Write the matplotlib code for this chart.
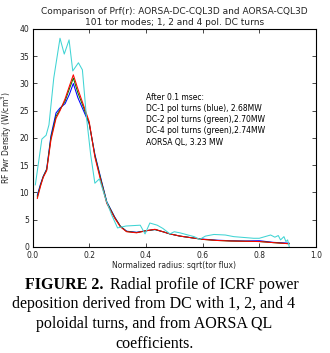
import matplotlib
matplotlib.use("Agg")
import matplotlib.pyplot as plt

# DC runs (1, 2, 4 poloidal turns)
r_dc = [0.017, 0.028, 0.038, 0.050, 0.065, 0.083, 0.097, 0.115, 0.130, 0.144,
        0.160, 0.180, 0.200, 0.220, 0.240, 0.262, 0.290, 0.310, 0.332, 0.367,
        0.403, 0.432, 0.460, 0.485, 0.520, 0.560, 0.600, 0.650, 0.700, 0.750,
        0.800, 0.850, 0.905]
dc1 = [9.5, 11.5, 13.0, 14.3, 20.4, 24.6, 25.5, 26.3, 28.0, 30.0,
       27.4, 25.0, 22.6, 17.0, 12.8, 8.3, 5.5, 3.8, 2.9, 2.7,
       3.0, 3.2, 2.8, 2.4, 2.0, 1.7, 1.45, 1.25, 1.15, 1.1,
       1.15, 0.85, 0.7]
dc2 = [9.2, 11.3, 12.9, 14.2, 20.0, 24.0, 25.2, 26.8, 29.0, 31.0,
       28.3, 25.6, 22.7, 16.8, 12.6, 8.2, 5.4, 3.8, 2.85, 2.65,
       3.0, 3.2, 2.8, 2.4, 2.0, 1.7, 1.4, 1.2, 1.1, 1.05,
       1.0, 0.8, 0.6]
dc4 = [8.9, 11.1, 12.8, 14.0, 19.6, 23.6, 25.0, 27.2, 29.5, 31.6,
       29.0, 26.0, 23.0, 16.5, 12.3, 8.0, 5.3, 3.7, 2.8, 2.6,
       3.0, 3.25, 2.8, 2.4, 2.0, 1.7, 1.4, 1.2, 1.1, 1.05,
       1.0, 0.8, 0.6]

# AORSA QL
r_ql = [0.010, 0.033, 0.048, 0.058, 0.075, 0.097, 0.112, 0.129, 0.142, 0.162,
        0.176, 0.190, 0.205, 0.220, 0.236, 0.260, 0.280, 0.300, 0.330, 0.380,
        0.397, 0.414, 0.440, 0.460, 0.485, 0.500, 0.520, 0.570, 0.590, 0.610,
        0.640, 0.680, 0.710, 0.780, 0.800, 0.840, 0.855, 0.867, 0.875, 0.887,
        0.894, 0.900, 0.906]
ql = [11.4, 19.8, 20.5, 22.4, 31.0, 38.3, 35.4, 38.0, 32.3, 33.8,
      32.5, 24.0, 17.0, 11.7, 12.5, 8.5, 5.8, 3.5, 3.85, 4.0,
      2.4, 4.4, 4.0, 3.4, 2.4, 2.8, 2.6, 1.9, 1.4, 2.0,
      2.3, 2.2, 1.9, 1.6, 1.6, 2.2, 1.8, 2.1, 1.3, 1.9,
      1.0, 1.3, 0.0]

notes = ["After 0.1 msec:",
         "DC-1 pol turns (blue), 2.68MW",
         "DC-2 pol turns (green),2.70MW",
         "DC-4 pol turns (green),2.74MW",
         "AORSA QL, 3.23 MW"]

fig = plt.figure(figsize=(3.3, 3.53), dpi=100)
ax = fig.add_axes([0.0985, 0.3003, 0.859, 0.6176])

lw = 0.75
ax.plot(r_dc, dc1, color="blue", lw=lw)
ax.plot(r_dc, dc2, color="green", lw=lw)
ax.plot(r_dc, dc4, color="red", lw=lw)
ax.plot(r_ql, ql, color="#40d4d4", lw=lw)

ax.set_xlim(0, 1)
ax.set_ylim(0, 40)
ax.set_xticks([0.0, 0.2, 0.4, 0.6, 0.8, 1.0])
ax.set_yticks([0, 5, 10, 15, 20, 25, 30, 35, 40])
ax.tick_params(direction="in", top=True, right=True, labelsize=5.5,
               length=3, width=0.5, pad=2.5, labelcolor="#222222")
ax.tick_params(axis="x", pad=3)
for s in ax.spines.values():
    s.set_linewidth(0.8)

ax.set_title("Comparison of Prf(r): AORSA-DC-CQL3D and AORSA-CQL3D\n"
             "101 tor modes; 1, 2 and 4 pol. DC turns",
             fontsize=6.5, linespacing=1.3, pad=3, color="#222222")
ax.set_xlabel("Normalized radius: sqrt(tor flux)", fontsize=5.5, labelpad=0.5,
              color="#222222")
ax.set_ylabel("RF Pwr Density (W/cm$^3$)", fontsize=5.5, labelpad=3.5,
              color="#222222")

ax.text(0.402, 28.3, "\n".join(notes), fontsize=5.5, va="top",
        linespacing=1.32)

# caption
cap = {"family": "Liberation Serif", "fontsize": 11.5}
t1 = fig.text(25 / 330, 1 - 289 / 353, "FIGURE 2.", fontweight="bold",
              va="baseline", ha="left", **cap)
ax.annotate("Radial profile of ICRF power", xy=(1, 0), xycoords=t1,
            xytext=(5, 0), textcoords="offset points",
            va="bottom", ha="left", annotation_clip=False, **cap)
rest = ["deposition derived from DC with 1, 2, and 4",
        "poloidal turns, and from AORSA QL",
        "coefficients."]
for i, line in enumerate(rest):
    fig.text(154 / 330, 1 - (308.5 + 19.9 * i) / 353, line,
             va="baseline", ha="center", **cap)

fig.savefig("out.png", dpi=100)
